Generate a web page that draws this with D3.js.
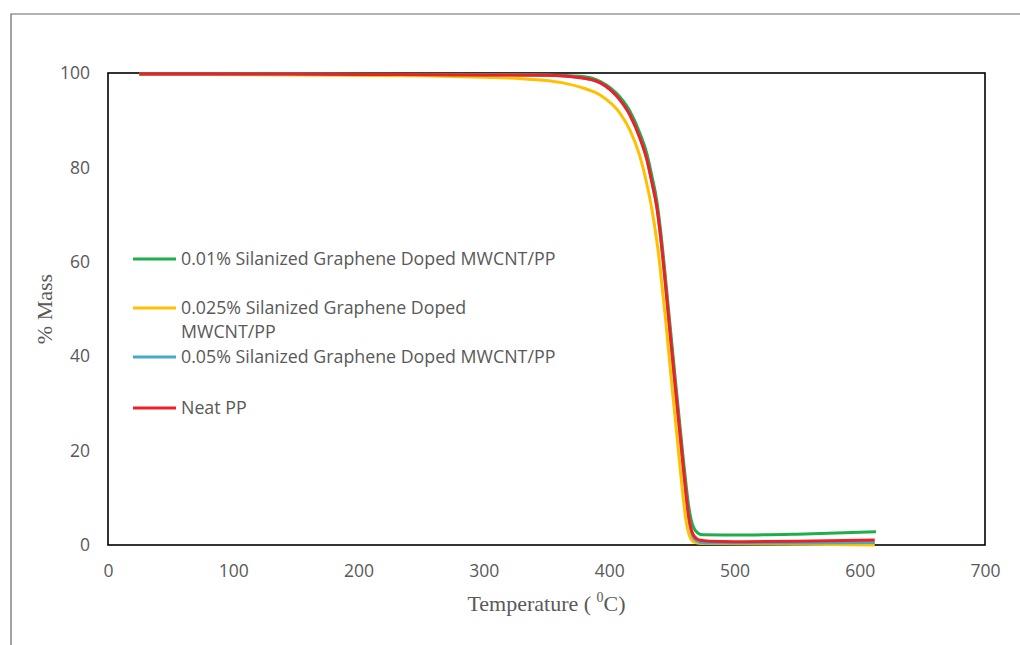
<!DOCTYPE html>
<html>
<head>
<meta charset="utf-8">
<script src="https://cdn.jsdelivr.net/npm/d3@7"></script>
<style>
  body { margin: 0; background: #fff; }
  svg { display: block; }
</style>
</head>
<body>
<div id="chart"></div>
<script>
// TGA curves, [temperature °C, % mass]
const seriesNames = [
  "0.01% Silanized Graphene Doped MWCNT/PP",
  "0.025% Silanized Graphene Doped MWCNT/PP",
  "0.05% Silanized Graphene Doped MWCNT/PP",
  "Neat PP",
];

const green = [
  [25, 99.8], [100, 99.8], [200, 99.8], [300, 99.7], [350, 99.6], [377, 99.3],
  [393, 98.2], [408.6, 94.9], [416.6, 91.9], [424.6, 87.2], [430, 83.0], [434, 78.3],
  [438, 73], [441, 66.8], [444, 59.2], [447, 51], [450, 42.8], [453, 34.6],
  [456, 26.6], [459, 18.7], [461.5, 12.5], [463.5, 8.2], [465.5, 5.3], [468, 3.4],
  [471, 2.5], [475, 2.15], [500, 2.1], [550, 2.3], [613, 2.8],
];

const yellow = [
  [25, 99.7], [150, 99.6], [250, 99.4], [300, 99.1], [330, 98.8], [350, 98.4],
  [365, 97.8], [377, 97.0], [393, 95.3], [408.6, 91.5], [416.6, 87.9], [424.6, 82.3],
  [430, 76.6], [434, 71.3], [438, 64.5], [440.6, 59], [442.5, 54], [444.4, 49.5],
  [447.4, 41.2], [450.4, 33], [453.4, 25], [456.4, 17], [458.9, 10.5], [460.9, 6],
  [463, 3], [465.5, 1.2], [469, 0.5], [475, 0.3], [550, 0.15], [612, 0.0],
];

const blue = [
  [25, 99.8], [100, 99.8], [200, 99.7], [300, 99.6], [350, 99.5], [377, 99.0],
  [393, 97.9], [408.6, 94.3], [416.6, 91.1], [424.6, 86.2], [430, 81.8], [434, 77.0],
  [438, 71.7], [441, 65.5], [444, 57.8], [447, 49.5], [450, 41.2], [453, 33],
  [456, 25], [459, 17], [461.5, 10.5], [463.5, 6], [465.5, 3.0], [468, 1.3],
  [472.5, 0.6], [480, 0.4], [550, 0.4], [612, 0.55],
];

const red = [
  [25, 99.8], [100, 99.8], [200, 99.7], [300, 99.6], [350, 99.5], [377, 99.0],
  [393, 97.9], [408.6, 94.3], [416.6, 91.1], [424.6, 86.2], [430, 81.8], [434, 77.0],
  [438, 71.7], [441, 65.5], [444, 57.8], [447, 49.5], [450, 41.2], [453, 33],
  [456, 25], [459, 17], [461.5, 10.5], [463.5, 6], [465.5, 3.3], [468, 1.8],
  [472.5, 1.0], [480, 0.8], [500, 0.7], [550, 0.8], [612, 1.05],
];

const xTicks = [0, 100, 200, 300, 400, 500, 600, 700];
const yTicks = [0, 20, 40, 60, 80, 100];
const colors = ["#1fae4b", "#ffc000", "#45a9c9", "#ee2024"];

const width = 1020, height = 645;
const margin = { top: 73, right: 35, bottom: 100, left: 108 };

const svg = d3.select("#chart").append("svg")
  .attr("width", width)
  .attr("height", height);

// outer chart frame (only top and left edges show)
svg.append("path")
  .attr("d", `M11,${height} V14 H${width}`)
  .attr("fill", "none")
  .attr("stroke", "#666")
  .attr("stroke-width", 1.2);

const x = d3.scaleLinear([0, 700], [margin.left, width - margin.right]);
const y = d3.scaleLinear([0, 100], [height - margin.bottom, margin.top]);

// tick labels
const xAxis = svg.append("g")
  .attr("transform", `translate(0,${y(0)})`)
  .call(d3.axisBottom(x).tickValues(xTicks).tickSize(0).tickPadding(20));
const yAxis = svg.append("g")
  .attr("transform", `translate(${x(0)},0)`)
  .call(d3.axisLeft(y).tickValues(yTicks).tickSize(0).tickPadding(18));

[xAxis, yAxis].forEach((g) => {
  g.select(".domain").remove();
  g.selectAll("text")
    .attr("font-family", "'Open Sans', 'Noto Sans', sans-serif")
    .attr("font-size", 17.5)
    .attr("fill", "#595959");
});

// plot box
svg.append("rect")
  .attr("x", x(0))
  .attr("y", y(100))
  .attr("width", x(700) - x(0))
  .attr("height", y(0) - y(100))
  .attr("fill", "none")
  .attr("stroke", "#000")
  .attr("stroke-width", 1.6);

const line = d3.line()
  .x((d) => x(d[0]))
  .y((d) => y(d[1]))
  .curve(d3.curveMonotoneX);

const allSeries = [green, yellow, blue, red];

svg.append("g")
  .selectAll("path")
  .data(allSeries)
  .join("path")
  .attr("d", line)
  .attr("fill", "none")
  .attr("stroke", (d, i) => colors[i])
  .attr("stroke-width", 3)
  .attr("stroke-linejoin", "round");

// legend (inside the plot, left side)
const legendRows = [
  { lines: ["0.01% Silanized Graphene Doped MWCNT/PP"], y: 259 },
  { lines: ["0.025% Silanized Graphene Doped", "MWCNT/PP"], y: 308 },
  { lines: ["0.05% Silanized Graphene Doped MWCNT/PP"], y: 357 },
  { lines: ["Neat PP"], y: 408 },
];

const legend = svg.append("g")
  .selectAll("g")
  .data(legendRows)
  .join("g")
  .attr("transform", (d) => `translate(133,${d.y})`);

legend.append("line")
  .attr("x1", 0)
  .attr("x2", 43)
  .attr("stroke", (d, i) => colors[i])
  .attr("stroke-width", 3);

legend.append("text")
  .attr("font-family", "'Open Sans', 'Noto Sans', sans-serif")
  .attr("font-size", 17.8)
  .attr("fill", "#595959")
  .selectAll("tspan")
  .data((d) => d.lines)
  .join("tspan")
  .attr("x", 48)
  .attr("y", (d, i) => 6 + i * 24)
  .text((d) => d);

// axis titles
const xTitle = svg.append("text")
  .attr("x", (x(0) + x(700)) / 2)
  .attr("y", 611)
  .attr("text-anchor", "middle")
  .attr("font-family", "'Liberation Serif', 'Times New Roman', serif")
  .attr("font-size", 22)
  .attr("fill", "#595959");
xTitle.append("tspan").text("Temperature ( ");
xTitle.append("tspan").attr("font-size", 14).attr("dy", -9).text("0");
xTitle.append("tspan").attr("dy", 9).text("C)");

svg.append("text")
  .attr("transform", `translate(52,${(y(0) + y(100)) / 2}) rotate(-90)`)
  .attr("text-anchor", "middle")
  .attr("font-family", "'Liberation Serif', 'Times New Roman', serif")
  .attr("font-size", 22)
  .attr("fill", "#595959")
  .text("% Mass");
</script>
</body>
</html>
